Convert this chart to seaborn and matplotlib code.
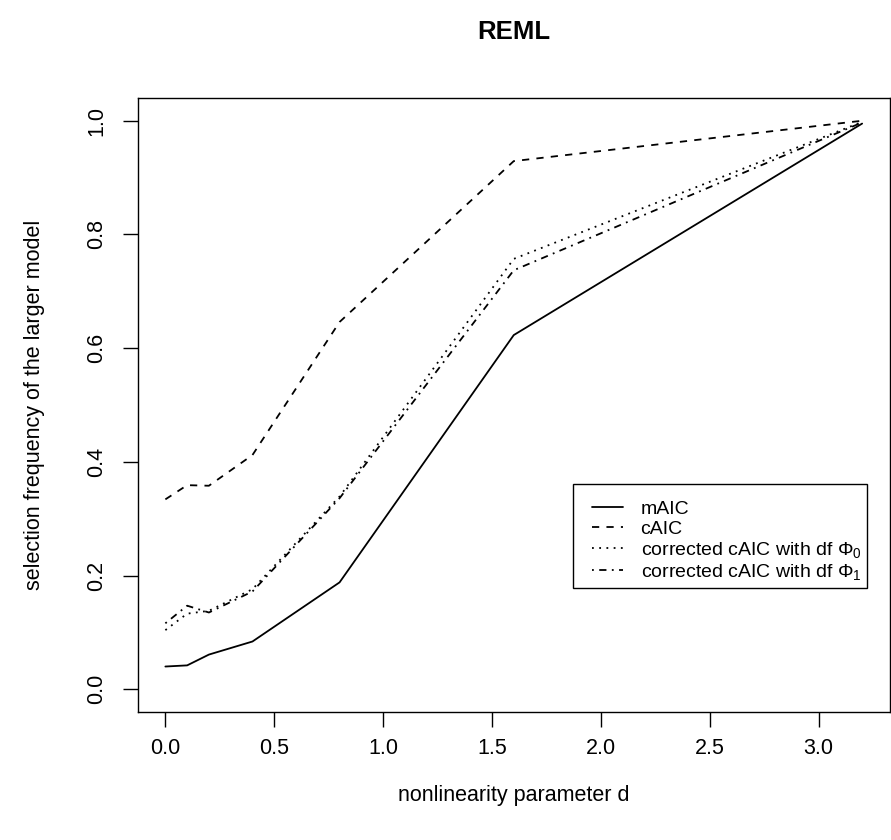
import numpy as np
import pandas as pd
import matplotlib
matplotlib.use("Agg")
import matplotlib.pyplot as plt
import seaborn as sns
from matplotlib.lines import Line2D
from matplotlib.patches import Rectangle

# values
d = [0.0, 0.1, 0.2, 0.4, 0.8, 1.6, 3.2]
maic = [0.040, 0.042, 0.061, 0.084, 0.188, 0.623, 0.995]
caic = [0.334, 0.359, 0.358, 0.412, 0.646, 0.929, 1.000]
caic_phi0 = [0.104, 0.133, 0.138, 0.176, 0.339, 0.757, 0.998]
caic_phi1 = [0.116, 0.147, 0.135, 0.172, 0.336, 0.737, 0.997]

labels = ["mAIC", "cAIC",
          r"corrected cAIC with df $\Phi_0$",
          r"corrected cAIC with df $\Phi_1$"]
xticks = [0.0, 0.5, 1.0, 1.5, 2.0, 2.5, 3.0]
yticks = [0.0, 0.2, 0.4, 0.6, 0.8, 1.0]

df = pd.DataFrame({
    "d": d * 4,
    "freq": maic + caic + caic_phi0 + caic_phi1,
    "method": [labels[0]] * 7 + [labels[1]] * 7 + [labels[2]] * 7 + [labels[3]] * 7,
})

sns.set_style("white")
plt.rcParams["font.family"] = ["Liberation Sans", "DejaVu Sans"]
plt.rcParams["mathtext.fontset"] = "custom"
plt.rcParams["mathtext.rm"] = "Liberation Sans"
plt.rcParams["mathtext.it"] = "Liberation Sans:italic"
for k in ["text.color", "axes.labelcolor", "xtick.color", "ytick.color", "axes.edgecolor"]:
    plt.rcParams[k] = "black"

# R-style line types: solid, dashed, dotted, dotdash
dash_map = {labels[0]: "", labels[1]: (4, 4), labels[2]: (1, 3), labels[3]: (1, 3, 4, 3)}

fig = plt.figure(figsize=(8.91, 8.4), dpi=100)
ax = fig.add_axes([137.5 / 891, 1 - 712 / 840, (890 - 137.5) / 891, (712 - 98) / 840])

sns.lineplot(data=df, x="d", y="freq", style="method", dashes=dash_map,
             color="black", linewidth=1.3, legend=False, ax=ax)

ax.set_xlim(-0.128, 3.328)
ax.set_ylim(-0.04, 1.04)
ax.set_xticks(xticks)
ax.set_xticklabels([f"{t:.1f}" for t in xticks])
ax.set_yticks(yticks)
ax.set_yticklabels([f"{t:.1f}" for t in yticks], rotation=90, va="center")
ax.tick_params(axis="both", direction="out", length=11, width=1, color="black",
               labelsize=15.5, labelcolor="black", bottom=True, left=True)
ax.tick_params(axis="x", pad=8)
ax.tick_params(axis="y", pad=11)
for s in ax.spines.values():
    s.set_color("black")
    s.set_linewidth(1)

ax.set_xlabel("nonlinearity parameter d", fontsize=15.5)
ax.xaxis.label.set_va("center")
ax.xaxis.set_label_coords(0.5, (712 - 795) / 614)
ax.set_ylabel("selection frequency of the larger model", fontsize=15.5)
ax.yaxis.label.set_ha("center")
ax.yaxis.label.set_va("center")
ax.yaxis.set_label_coords((35 - 137.5) / 752.5, 0.5)

fig.text((137.5 + 890) / 2 / 891, 1 - 32 / 840, "REML", ha="center", va="center",
         fontsize=18.5, fontweight="bold", color="black")

# legend box drawn as in R: frame with wider left padding
ax.add_patch(Rectangle(((573 - 137.5) / 752.5, (712 - 588) / 614),
                       (867 - 573) / 752.5, (588 - 484) / 614,
                       transform=ax.transAxes, fill=True, facecolor="white",
                       edgecolor="black", linewidth=1, zorder=4))
handles = []
for lab in labels:
    ls = "-" if dash_map[lab] == "" else (0, dash_map[lab])
    handles.append(Line2D([0], [0], color="black", linewidth=1.3, linestyle=ls))
leg = ax.legend(handles, labels, loc="upper left",
                bbox_to_anchor=((592 - 137.5) / 752.5, (712 - 500) / 614),
                borderaxespad=0, borderpad=0, fontsize=14, handlelength=1.6,
                handletextpad=0.9, labelspacing=0.12, frameon=False)
leg.set_zorder(5)

fig.savefig("out.png", dpi=100)
